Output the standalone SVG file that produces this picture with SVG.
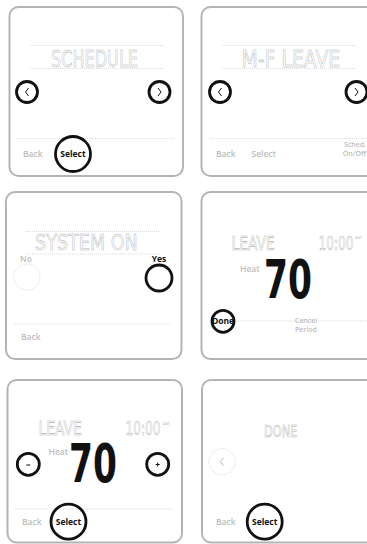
<svg xmlns="http://www.w3.org/2000/svg" width="367" height="544" viewBox="0 0 367 544">
<style>
.panel{fill:#fff;stroke:#b4b4b4;stroke-width:2}
.dot{stroke:#c4c4c4;stroke-width:0.8;stroke-dasharray:0.8 1.2;fill:none}
.dcirc{stroke:#c4c4c4;stroke-width:0.8;stroke-dasharray:1 1.4;fill:none}
.btn{fill:none;stroke:#111;stroke-width:2.8}
.seg{font-family:"DejaVu Sans",sans-serif;fill:none;stroke:#b4b4b4;stroke-width:0.55}
.big{font-family:"DejaVu Sans",sans-serif;font-weight:bold;fill:#111}
.lbl{font-family:"Open Sans","Liberation Sans",sans-serif;font-weight:600;font-size:8.5px;fill:#bdbdbd}
.two{font-family:"Open Sans","Liberation Sans",sans-serif;font-weight:600;font-size:7px;fill:#bdbdbd}
.am{font-family:"Open Sans","Liberation Sans",sans-serif;font-size:4.2px;fill:#bdbdbd}
.blk{font-family:"Open Sans","Liberation Sans",sans-serif;font-weight:700;font-size:8.5px;fill:#111;text-anchor:middle}
.chev{fill:none;stroke:#111;stroke-width:1}
.chevg{fill:none;stroke:#bbb;stroke-width:1}
</style>
<rect width="367" height="544" fill="#fff"/>
<g id="connectors"/>
<g id="panel1">
<rect class="panel" x="9.5" y="7" width="173.5" height="169" rx="9"/>
<line class="dot" x1="30" y1="45.5" x2="163" y2="45.5"/>
<line class="dot" x1="30" y1="68.5" x2="163" y2="68.5"/>
<text class="seg" font-size="23" transform="translate(51,67) scale(0.7,1)">SCHEDULE</text>
<circle class="btn" cx="27" cy="92" r="10.5"/>
<path class="chev" d="M28.5 88 L25.5 92 L28.5 96"/>
<circle class="btn" cx="159.5" cy="92" r="10.5"/>
<path class="chev" d="M158 88 L161 92 L158 96"/>
<line class="dot" x1="17" y1="138.5" x2="175" y2="138.5"/>
<text class="lbl" x="23" y="157">Back</text>
<circle class="btn" cx="73" cy="154" r="17.5"/>
<text class="blk" x="73" y="157">Select</text>
</g>
<g id="panel2">
<rect class="panel" x="201.5" y="7" width="200" height="169" rx="9"/>
<line class="dot" x1="222" y1="45.5" x2="355" y2="45.5"/>
<line class="dot" x1="222" y1="68.5" x2="355" y2="68.5"/>
<text class="seg" font-size="23" transform="translate(241.5,67) scale(0.82,1)">M-F LEAVE</text>
<circle class="btn" cx="220" cy="92" r="10.5"/>
<path class="chev" d="M221.5 88 L218.5 92 L221.5 96"/>
<circle class="btn" cx="356.5" cy="92" r="10.5"/>
<path class="chev" d="M355 88 L358 92 L355 96"/>
<line class="dot" x1="210" y1="138.5" x2="367" y2="138.5"/>
<text class="lbl" x="216" y="157">Back</text>
<text class="lbl" x="251.5" y="157">Select</text>
<text class="two" x="366" y="146.5" text-anchor="end">Sched.</text>
<text class="two" x="366" y="156" text-anchor="end">On/Off</text>
</g>
<g id="panel3">
<rect class="panel" x="6" y="192" width="175.5" height="167" rx="9"/>
<line class="dot" x1="26" y1="231.5" x2="159" y2="231.5"/>
<line class="dot" x1="26" y1="254" x2="159" y2="254"/>
<text class="seg" font-size="22" transform="translate(35,250) scale(0.8,1)">SYSTEM ON</text>
<text class="lbl" x="20" y="262" font-size="7.5">No</text>
<circle class="dcirc" cx="27" cy="277" r="13"/>
<text class="blk" x="159" y="262" font-size="7.5">Yes</text>
<circle class="btn" cx="159" cy="278" r="13"/>
<line class="dot" x1="15" y1="324" x2="171" y2="324"/>
<text class="lbl" x="21" y="340">Back</text>
</g>
<g id="panel4">
<rect class="panel" x="201.5" y="192" width="200" height="167" rx="9"/>
<text class="seg" font-size="19.5" transform="translate(231.5,249.5) scale(0.71,1)">LEAVE</text>
<text class="seg" font-size="19.5" transform="translate(318.5,249.5) scale(0.62,1)">10:00</text>
<text class="am" x="355" y="239">AM</text>
<text class="lbl" x="240" y="272" font-size="6" font-weight="400">Heat</text>
<text class="big" font-size="53" transform="translate(264,297.5) scale(0.65,1)">70</text>
<line class="dot" x1="236" y1="321" x2="367" y2="321"/>
<circle class="btn" cx="223" cy="321.3" r="11"/>
<text class="blk" x="223" y="324" font-size="7.5">Done</text>
<text class="two" x="306" y="322.5" text-anchor="middle">Cancel</text>
<text class="two" x="306" y="332" text-anchor="middle">Period</text>
</g>
<g id="panel5">
<rect class="panel" x="7.5" y="380" width="174.5" height="162.5" rx="9"/>
<text class="seg" font-size="19.5" transform="translate(38.5,435) scale(0.71,1)">LEAVE</text>
<text class="seg" font-size="19.5" transform="translate(125.5,435) scale(0.62,1)">10:00</text>
<text class="am" x="163" y="425">AM</text>
<circle class="btn" cx="28.3" cy="464.3" r="11"/>
<path class="chev" d="M26.3 465 H30.3" stroke-width="1.3"/>
<text class="lbl" x="48.5" y="455" font-size="6" font-weight="400">Heat</text>
<text class="big" font-size="53" transform="translate(69,481.5) scale(0.65,1)">70</text>
<circle class="btn" cx="157.7" cy="464.3" r="11"/>
<path class="chev" d="M155.7 464.5 H159.7 M157.7 462.5 V466.5" stroke-width="1.2"/>
<line class="dot" x1="15" y1="509" x2="173" y2="509"/>
<text class="lbl" x="22" y="525">Back</text>
<circle class="btn" cx="68.5" cy="521.7" r="17.5"/>
<text class="blk" x="68.5" y="524.7">Select</text>
</g>
<g id="panel6">
<rect class="panel" x="202" y="380" width="200" height="162.5" rx="9"/>
<text class="seg" font-size="16.5" transform="translate(264,437) scale(0.69,1)">DONE</text>
<circle class="dcirc" cx="222" cy="461.7" r="13"/>
<path class="chevg" d="M223.5 457.7 L220.5 461.7 L223.5 465.7"/>
<text class="lbl" x="216" y="525">Back</text>
<circle class="btn" cx="264.7" cy="521.7" r="17.5"/>
<text class="blk" x="264.7" y="524.7">Select</text>
</g>
</svg>
